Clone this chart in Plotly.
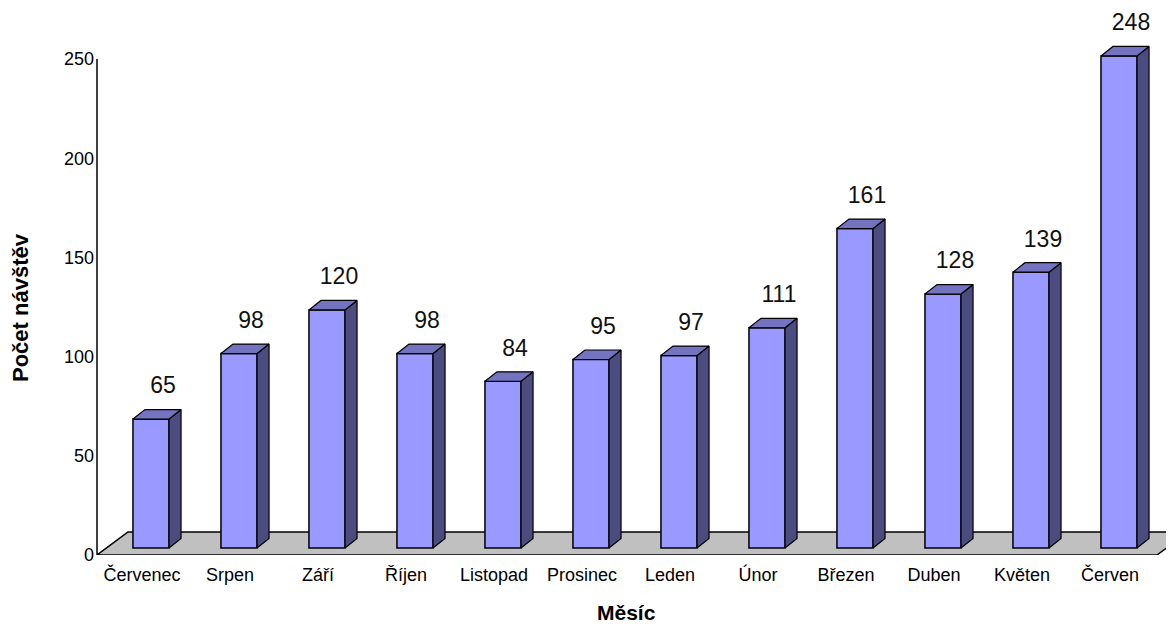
import plotly.graph_objects as go

months = ["Červenec", "Srpen", "Září", "Říjen", "Listopad", "Prosinec",
          "Leden", "Únor", "Březen", "Duben", "Květen", "Červen"]
visits = [65, 98, 120, 98, 84, 95, 97, 111, 161, 128, 139, 248]
y_ticks = [0, 50, 100, 150, 200, 250]

# geometry (pixel based helpers; page body adds an 8px offset)
W, H = 1166, 620
ML, MR, MT, MB = 89, 0, 2, 73
PX_X = 88.0                      # pixels per category
PX_Y = 1.984                     # pixels per unit
x0 = -45 / PX_X                  # left edge of plot in x units
x1 = x0 + (W - ML - MR) / PX_X
y1 = (H - MT - MB) / PX_Y

shift = 9 / PX_X                 # bar front centre offset vs label
bw = 0.41                        # bar width
dx, dy = 12 / PX_X, 9.5 / PX_Y   # bar depth
lift = 7 / PX_Y                  # bars stand on floor, above front edge
fdx, fdy = 31 / PX_X, 23 / PX_Y  # floor depth
floor_right = x0 + 1060 / PX_X

FONT = "Liberation Sans, Arial, sans-serif"
FRONT, TOP, SIDE = "#9999FF", "#7373C0", "#4C4C80"

fig = go.Figure()

# floor
fig.add_shape(type="path", layer="below", xref="x", yref="y",
              path=(f"M {x0},0 L {x0+fdx},{fdy} L {floor_right+fdx},{fdy} "
                    f"L {floor_right},0 Z"),
              fillcolor="#C0C0C0", line=dict(color="black", width=1.5))

xs = [i + shift for i in range(len(months))]

# front faces
fig.add_trace(go.Bar(x=xs, y=visits, base=[lift] * len(visits), width=bw,
                     marker=dict(color=FRONT, line=dict(color="black", width=1.5)),
                     hovertext=months, showlegend=False))

# side and top faces
for xc, v in zip(xs, visits):
    xl, xr = xc - bw / 2, xc + bw / 2
    top = v + lift
    fig.add_trace(go.Scatter(
        x=[xr, xr + dx, xr + dx, xr, xr],
        y=[lift, lift + dy, top + dy, top, lift],
        fill="toself", fillcolor=SIDE, mode="lines",
        line=dict(color="black", width=1.2), hoverinfo="skip", showlegend=False))
    fig.add_trace(go.Scatter(
        x=[xl, xl + dx, xr + dx, xr, xl],
        y=[top, top + dy, top + dy, top, top],
        fill="toself", fillcolor=TOP, mode="lines",
        line=dict(color="black", width=1.2), hoverinfo="skip", showlegend=False))

# value labels
fig.add_trace(go.Scatter(
    x=[xc + dx for xc in xs], y=[v + lift + dy + 11 for v in visits],
    mode="text", text=[str(v) for v in visits],
    textfont=dict(family=FONT, size=23, color="#111111"),
    cliponaxis=False, hoverinfo="skip", showlegend=False))

# y axis line (0 to 250 only)
fig.add_shape(type="line", xref="paper", yref="y", x0=0, x1=0,
              y0=0, y1=y_ticks[-1], line=dict(color="black", width=1.5))

fig.update_layout(
    width=W, height=H,
    margin=dict(l=ML, r=MR, t=MT, b=MB),
    paper_bgcolor="white", plot_bgcolor="white",
    font=dict(family=FONT, color="black"),
    xaxis=dict(range=[x0, x1], tickmode="array",
               tickvals=list(range(len(months))), ticktext=months,
               showgrid=False, zeroline=False, showline=False,
               ticks="", ticklabelstandoff=7,
               tickfont=dict(family=FONT, size=18, color="black")),
    yaxis=dict(range=[0, y1], tickmode="array", tickvals=y_ticks,
               showgrid=False, zeroline=False, showline=False,
               ticks="", ticklabelstandoff=2,
               tickfont=dict(family=FONT, size=18, color="black")),
    annotations=[
        dict(text="<b>Měsíc</b>", xref="paper", yref="paper",
             x=(618 - ML) / (W - ML - MR), y=-(605 - (H - MB)) / (H - MT - MB),
             showarrow=False, font=dict(family=FONT, size=21, color="black"),
             xanchor="center", yanchor="middle", borderpad=0),
        dict(text="<b>Počet návštěv</b>", xref="paper", yref="paper",
             x=-(ML - 13) / (W - ML - MR), y=((H - MB) - 300) / (H - MT - MB),
             textangle=-90, showarrow=False,
             font=dict(family=FONT, size=22, color="black"),
             xanchor="center", yanchor="middle"),
    ],
)

fig.write_html("out.html")
